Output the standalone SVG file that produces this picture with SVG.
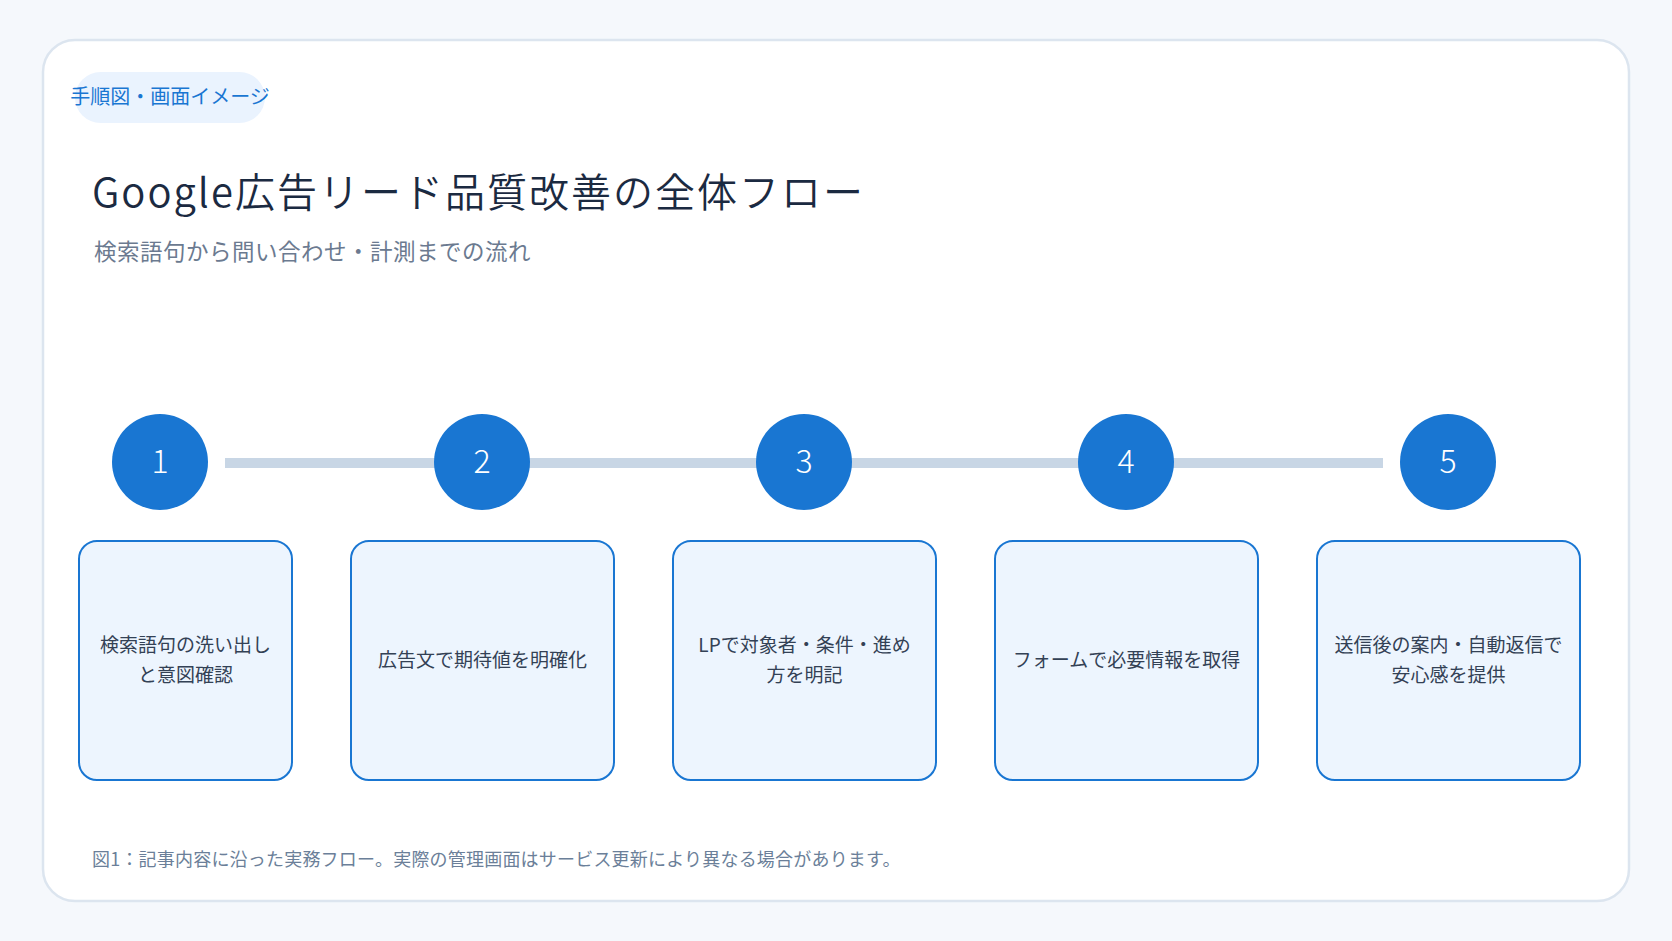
<svg xmlns="http://www.w3.org/2000/svg" width="1672" height="941" viewBox="0 0 1672 941">
<style>
text{font-family:"Noto Sans CJK JP","Noto Sans",sans-serif}
.box{fill:#EDF5FE;stroke:#1976D2;stroke-width:2}
.circ{fill:#1976D2}
.num{fill:#FFFFFF;font-size:32px;text-anchor:middle;font-weight:300}
.lbl{fill:#334155;font-size:19px;text-anchor:middle}
</style>
<rect x="0" y="0" width="1672" height="941" fill="#F5F8FC"/>
<rect x="43" y="40" width="1586" height="861" rx="32" fill="#FFFFFF" stroke="#DCE5EF" stroke-width="2.5"/>
<g id="tag">
<rect x="75" y="72" width="190" height="51" rx="25.5" fill="#EAF3FE"/>
<text x="170" y="104" font-size="20" fill="#1976D2" text-anchor="middle">手順図・画面イメージ</text>
</g>
<text x="92" y="207" font-size="40" fill="#1B2A41" letter-spacing="2" font-weight="350">Google広告リード品質改善の全体フロー</text>
<text x="94" y="260" font-size="22.5" fill="#6B7A90" letter-spacing="0.5">検索語句から問い合わせ・計測までの流れ</text>
<g id="connectors">
<rect x="225" y="458" width="1158" height="10" fill="#C8D6E5"/>
</g>
<g id="step1">
<circle class="circ" cx="160" cy="462" r="48"/>
<text class="num" x="160" y="473">1</text>
<rect class="box" x="79" y="541" width="213" height="239" rx="18"/>
<text class="lbl" x="185.5" y="652">検索語句の洗い出し</text>
<text class="lbl" x="185.5" y="682">と意図確認</text>
</g>
<g id="step2">
<circle class="circ" cx="482" cy="462" r="48"/>
<text class="num" x="482" y="473">2</text>
<rect class="box" x="351" y="541" width="263" height="239" rx="18"/>
<text class="lbl" x="482.5" y="667">広告文で期待値を明確化</text>
</g>
<g id="step3">
<circle class="circ" cx="804" cy="462" r="48"/>
<text class="num" x="804" y="473">3</text>
<rect class="box" x="673" y="541" width="263" height="239" rx="18"/>
<text class="lbl" x="804.5" y="652">LPで対象者・条件・進め</text>
<text class="lbl" x="804.5" y="682">方を明記</text>
</g>
<g id="step4">
<circle class="circ" cx="1126" cy="462" r="48"/>
<text class="num" x="1126" y="473">4</text>
<rect class="box" x="995" y="541" width="263" height="239" rx="18"/>
<text class="lbl" x="1126.5" y="667">フォームで必要情報を取得</text>
</g>
<g id="step5">
<circle class="circ" cx="1448" cy="462" r="48"/>
<text class="num" x="1448" y="473">5</text>
<rect class="box" x="1317" y="541" width="263" height="239" rx="18"/>
<text class="lbl" x="1448.5" y="652">送信後の案内・自動返信で</text>
<text class="lbl" x="1448.5" y="682">安心感を提供</text>
</g>
<text x="92" y="866" font-size="18" fill="#6B7F99" letter-spacing="0.2">図1：記事内容に沿った実務フロー。実際の管理画面はサービス更新により異なる場合があります。</text>
</svg>
